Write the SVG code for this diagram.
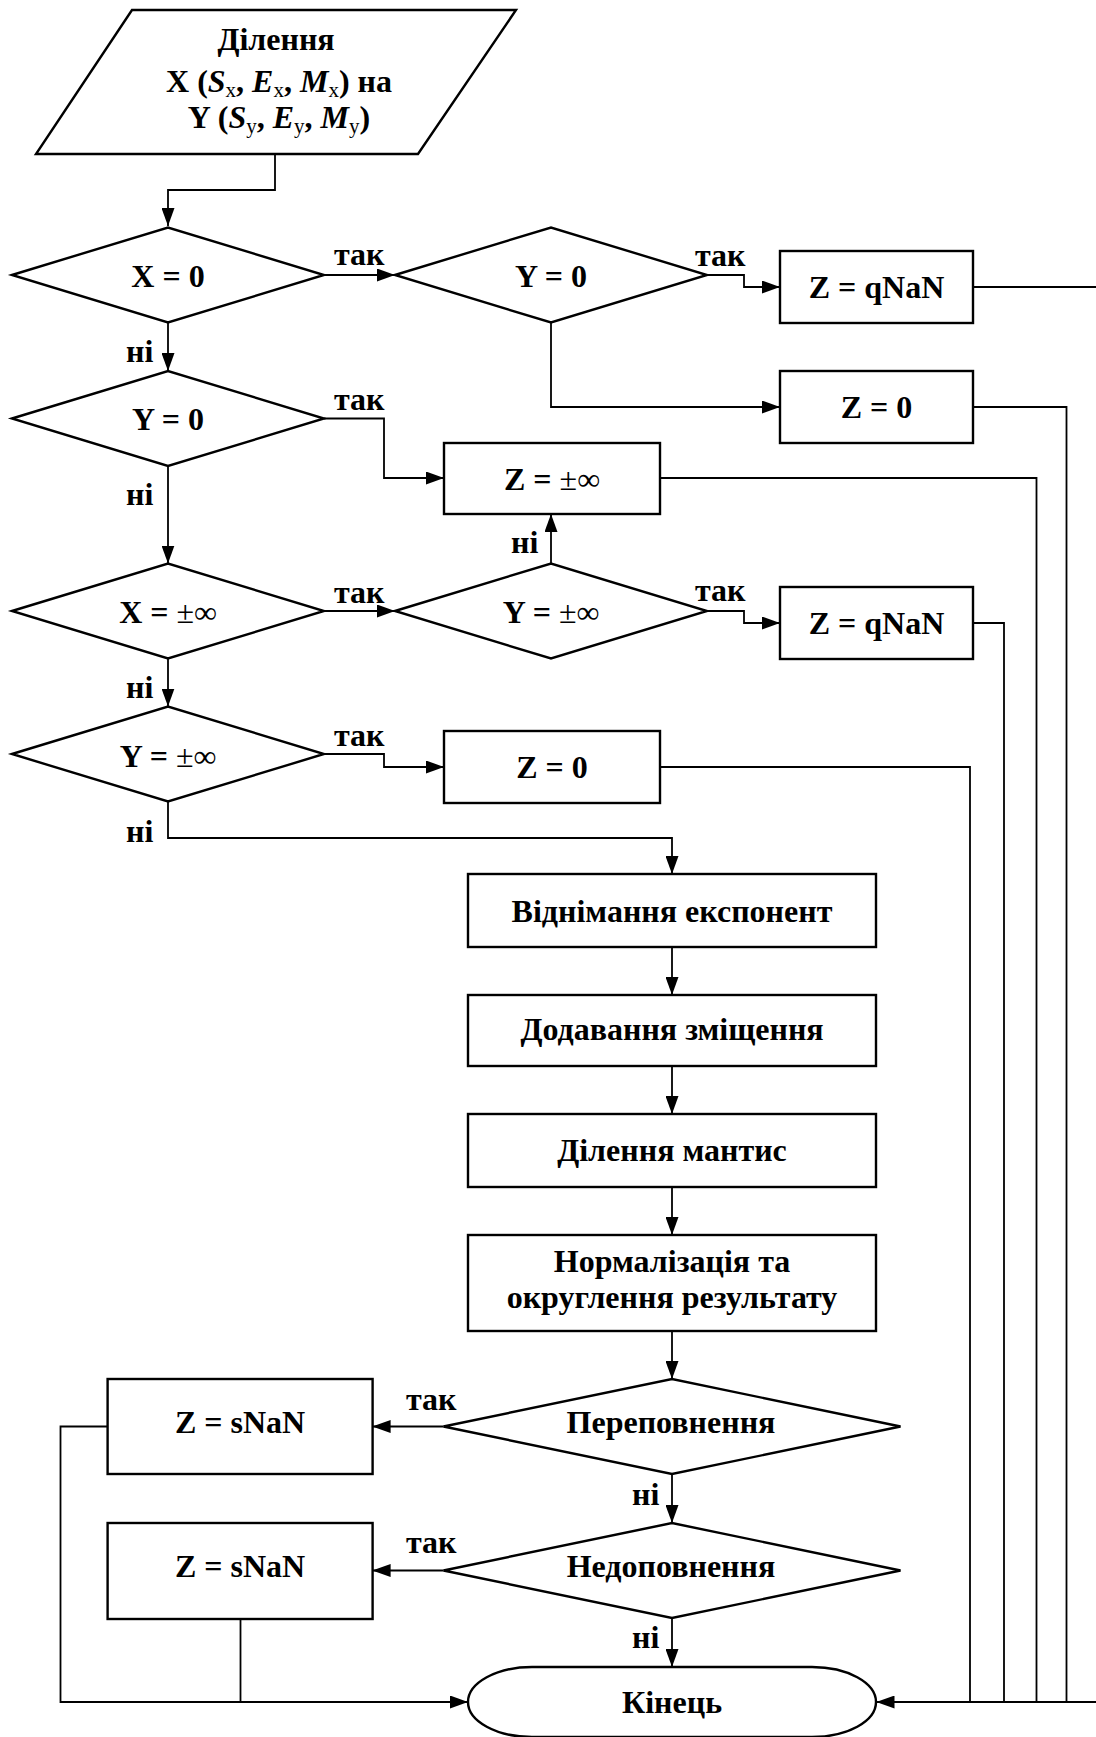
<svg xmlns="http://www.w3.org/2000/svg" width="1096" height="1737" viewBox="0 0 1096 1737">
<style>
.s{fill:#fff;stroke:#000;stroke-width:2.4}
.c{fill:none;stroke:#000;stroke-width:1.8}
.t{font-family:"Liberation Serif","Times New Roman",serif;font-size:32px;font-weight:bold;fill:#000;text-anchor:middle}
.l{font-family:"Liberation Serif","Times New Roman",serif;font-size:32px;font-weight:bold;fill:#000}
.n{font-weight:normal}
.bi{font-style:italic}
.sub{font-size:21px;font-weight:normal;font-style:normal}
</style>
<defs>
<marker id="a" markerUnits="userSpaceOnUse" markerWidth="18" markerHeight="13" refX="18" refY="6.5" orient="auto">
<path d="M0,0 L18,6.5 L0,13 Z" fill="#000"/>
</marker>
</defs>
<rect width="1096" height="1737" fill="#fff"/>
<g id="connectors">
<path class="c" d="M275,154 V190 H168 V226" marker-end="url(#a)"/>
<path class="c" d="M324,275 H395" marker-end="url(#a)"/>
<path class="c" d="M707,275 H744 V287 H780" marker-end="url(#a)"/>
<path class="c" d="M551,322.5 V407 H780" marker-end="url(#a)"/>
<path class="c" d="M168,322.5 V371" marker-end="url(#a)"/>
<path class="c" d="M324,418.5 H384 V478 H444" marker-end="url(#a)"/>
<path class="c" d="M168,466 V563.5" marker-end="url(#a)"/>
<path class="c" d="M324,611 H395" marker-end="url(#a)"/>
<path class="c" d="M551,563.5 V514" marker-end="url(#a)"/>
<path class="c" d="M707,611 H744 V623 H780" marker-end="url(#a)"/>
<path class="c" d="M168,658.5 V706.5" marker-end="url(#a)"/>
<path class="c" d="M324,754 H384 V767 H444" marker-end="url(#a)"/>
<path class="c" d="M168,801.5 V838 H672 V874" marker-end="url(#a)"/>
<path class="c" d="M672,947 V995" marker-end="url(#a)"/>
<path class="c" d="M672,1066 V1114" marker-end="url(#a)"/>
<path class="c" d="M672,1187 V1235" marker-end="url(#a)"/>
<path class="c" d="M672,1331 V1379" marker-end="url(#a)"/>
<path class="c" d="M443.5,1426.5 H372.6" marker-end="url(#a)"/>
<path class="c" d="M672,1474 V1523" marker-end="url(#a)"/>
<path class="c" d="M443.5,1570.5 H372.6" marker-end="url(#a)"/>
<path class="c" d="M672,1618 V1667" marker-end="url(#a)"/>
<path class="c" d="M107.6,1426.5 H60.5 V1702 H468" marker-end="url(#a)"/>
<path class="c" d="M240.5,1619 V1702"/>
<path class="c" d="M973,287 H1100 V1702"/>
<path class="c" d="M973,407 H1066.5 V1702"/>
<path class="c" d="M660,478 H1036.5 V1702"/>
<path class="c" d="M973,623 H1004 V1702"/>
<path class="c" d="M660,767 H970 V1702"/>
<path class="c" d="M1100,1702 H876.5" marker-end="url(#a)"/>
<text class="l" x="334" y="265">так</text>
<text class="l" x="695" y="266">так</text>
<text class="l" x="334" y="410">так</text>
<text class="l" x="334" y="603">так</text>
<text class="l" x="695" y="601">так</text>
<text class="l" x="334" y="746">так</text>
<text class="l" x="406" y="1410">так</text>
<text class="l" x="406" y="1553">так</text>
<text class="l" x="126" y="362">ні</text>
<text class="l" x="126" y="505">ні</text>
<text class="l" x="126" y="698">ні</text>
<text class="l" x="126" y="842">ні</text>
<text class="l" x="511" y="553">ні</text>
<text class="l" x="632" y="1505">ні</text>
<text class="l" x="632" y="1648">ні</text>
</g>
<g id="start">
<polygon class="s" points="132,10 516,10 418,154 36,154"/>
<text class="t" x="276" y="50">Ділення</text>
<text class="t" x="279" y="92">X (<tspan class="bi">S</tspan><tspan class="sub" dy="5">x</tspan><tspan dy="-5">, </tspan><tspan class="bi">E</tspan><tspan class="sub" dy="5">x</tspan><tspan dy="-5">, </tspan><tspan class="bi">M</tspan><tspan class="sub" dy="5">x</tspan><tspan dy="-5">) на</tspan></text>
<text class="t" x="279" y="128">Y (<tspan class="bi">S</tspan><tspan class="sub" dy="5">y</tspan><tspan dy="-5">, </tspan><tspan class="bi">E</tspan><tspan class="sub" dy="5">y</tspan><tspan dy="-5">, </tspan><tspan class="bi">M</tspan><tspan class="sub" dy="5">y</tspan><tspan dy="-5">)</tspan></text>
</g>
<g id="d1"><polygon class="s" points="12,275 168,227.5 324,275 168,322.5"/><text class="t" x="168" y="287">X = 0</text></g>
<g id="d2"><polygon class="s" points="12,418.5 168,371 324,418.5 168,466"/><text class="t" x="168" y="430">Y = 0</text></g>
<g id="d3"><polygon class="s" points="12,611 168,563.5 324,611 168,658.5"/><text class="t" x="168" y="623">X = <tspan class="n">±∞</tspan></text></g>
<g id="d4"><polygon class="s" points="12,754 168,706.5 324,754 168,801.5"/><text class="t" x="168" y="767">Y = <tspan class="n">±∞</tspan></text></g>
<g id="d5"><polygon class="s" points="395,275 551,227.5 707,275 551,322.5"/><text class="t" x="551" y="287">Y = 0</text></g>
<g id="d6"><polygon class="s" points="395,611 551,563.5 707,611 551,658.5"/><text class="t" x="551" y="623">Y = <tspan class="n">±∞</tspan></text></g>
<g id="b1"><rect class="s" x="780" y="251" width="193" height="72"/><text class="t" x="876.5" y="298">Z = qNaN</text></g>
<g id="b2"><rect class="s" x="780" y="371" width="193" height="72"/><text class="t" x="876.5" y="418">Z = 0</text></g>
<g id="b3"><rect class="s" x="444" y="443" width="216" height="71"/><text class="t" x="552" y="490">Z = <tspan class="n">±∞</tspan></text></g>
<g id="b4"><rect class="s" x="780" y="587" width="193" height="72"/><text class="t" x="876.5" y="634">Z = qNaN</text></g>
<g id="b5"><rect class="s" x="444" y="731" width="216" height="72"/><text class="t" x="552" y="778">Z = 0</text></g>
<g id="b6"><rect class="s" x="468" y="874" width="408" height="73"/><text class="t" x="672" y="922">Віднімання експонент</text></g>
<g id="b7"><rect class="s" x="468" y="995" width="408" height="71"/><text class="t" x="672" y="1040">Додавання зміщення</text></g>
<g id="b8"><rect class="s" x="468" y="1114" width="408" height="73"/><text class="t" x="672" y="1161">Ділення мантис</text></g>
<g id="b9"><rect class="s" x="468" y="1235" width="408" height="96"/><text class="t" x="672" y="1272">Нормалізація та</text><text class="t" x="672" y="1308">округлення результату</text></g>
<g id="d7"><polygon class="s" points="443.5,1426.5 672,1379 900.5,1426.5 672,1474"/><text class="t" x="671" y="1433">Переповнення</text></g>
<g id="d8"><polygon class="s" points="443.5,1570.5 672,1523 900.5,1570.5 672,1618"/><text class="t" x="671" y="1577">Недоповнення</text></g>
<g id="b10"><rect class="s" x="107.6" y="1379" width="265" height="95"/><text class="t" x="240" y="1433">Z = sNaN</text></g>
<g id="b11"><rect class="s" x="107.6" y="1523" width="265" height="96"/><text class="t" x="240" y="1577">Z = sNaN</text></g>
<g id="end"><path class="s" d="M532,1667 H812 A64,35 0 0 1 812,1737 H532 A64,35 0 0 1 532,1667 Z"/><text class="t" x="672" y="1713">Кінець</text></g>
</svg>
